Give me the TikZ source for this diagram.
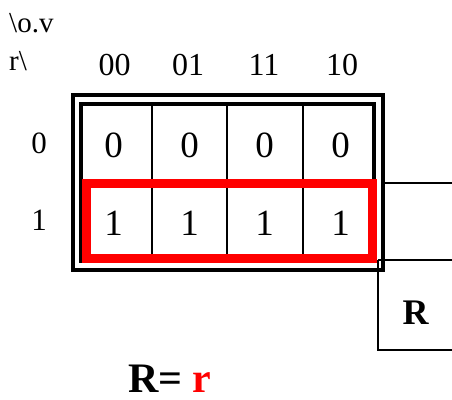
\documentclass[tikz,border=0pt]{standalone}
\usepackage{fontspec}
\setmainfont{Liberation Serif}
\newcommand{\pxsize}[1]{\fontsize{#1}{#1}\selectfont}
\begin{document}
\begin{tikzpicture}[x=1pt,y=-1pt,
  frameline/.style={line width=4pt},
  gridline/.style={line width=2pt},
  groupline/.style={draw=red,line width=9pt},
  boxline/.style={line width=2pt},
  lbl/.style={inner sep=0pt,anchor=base},
  headtxt/.style={lbl,font=\pxsize{32}},
  rowtxt/.style={lbl,font=\pxsize{31}},
  celltxt/.style={lbl,font=\pxsize{37}},
  vartxt/.style={inner sep=0pt,anchor=base west,font=\pxsize{29}}]
\useasboundingbox (0,0) rectangle (452,399);
\fill[white] (0,0) rectangle (452,399);

% double frame of the map
\draw[frameline] (73,95) rectangle (383,270);
\draw[frameline] (81,104) rectangle (374,261);

% cell grid
\draw[gridline] (152,104) -- (152,261);
\draw[gridline] (227,104) -- (227,261);
\draw[gridline] (303,104) -- (303,261);
\draw[gridline] (81,183) -- (374,183);

% grouping of the row r = 1
\draw[groupline] (86.5,183.5) rectangle (372.5,258);

% output box on the right
\draw[boxline] (384,183) -- (452,183);
\draw[boxline] (378,260) -- (452,260);
\draw[boxline] (378,260) -- (378,350) -- (452,350);
\node[inner sep=0pt,anchor=base,font=\pxsize{36}\bfseries] (out) at (415.5,324) {R};

% variable labels
\node[vartxt] (vars1) at (9,32) {\textbackslash o.v};
\node[vartxt] (vars2) at (9,70) {r\textbackslash};

% column headings
\node[headtxt] (h00) at (114.5,75) {00};
\node[headtxt] (h01) at (188,75) {01};
\node[headtxt] (h11) at (264,75) {11};
\node[headtxt] (h10) at (342,75) {10};

% row headings
\node[rowtxt] (r0) at (39,153) {0};
\node[rowtxt] (r1) at (39,230) {1};

% cell values
\node[celltxt] (c00) at (113.5,157) {0};
\node[celltxt] (c01) at (189.5,157) {0};
\node[celltxt] (c11) at (264.5,157) {0};
\node[celltxt] (c10) at (340.5,157) {0};
\node[celltxt] (d00) at (113.5,235) {1};
\node[celltxt] (d01) at (189.5,235) {1};
\node[celltxt] (d11) at (264.5,235) {1};
\node[celltxt] (d10) at (340.5,235) {1};

% resulting expression
\node[inner sep=0pt,text depth=0pt,anchor=base west,font=\pxsize{42}\bfseries] (expr) at (128,392) {R= \textcolor{red}{r}};
\end{tikzpicture}
\end{document}
